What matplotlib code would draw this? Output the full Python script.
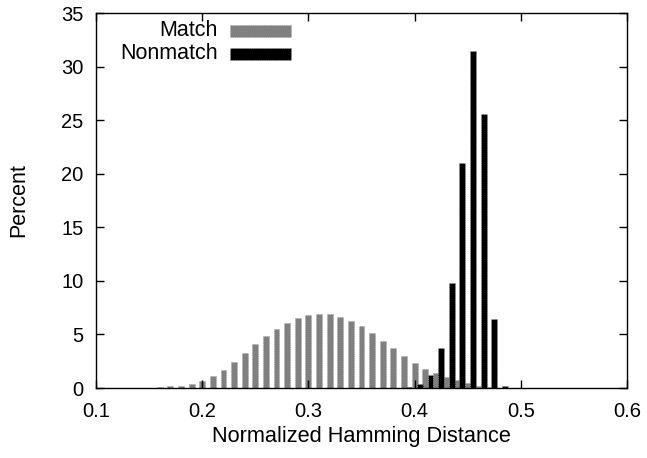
import numpy as np
import matplotlib
matplotlib.use('Agg')
import matplotlib.pyplot as plt
from matplotlib.patches import Rectangle

plt.rcParams['font.family'] = ['Liberation Sans', 'DejaVu Sans']

# match distribution, bins every 0.01
match_x = [0.14, 0.15, 0.16, 0.17, 0.18, 0.19, 0.20, 0.21, 0.22, 0.23, 0.24,
           0.25, 0.26, 0.27, 0.28, 0.29, 0.30, 0.31, 0.32, 0.33, 0.34, 0.35,
           0.36, 0.37, 0.38, 0.39, 0.40, 0.41, 0.42, 0.43, 0.44, 0.45, 0.46, 0.47]
match_pct = [0.01, 0.03, 0.06, 0.16, 0.21, 0.39, 0.68, 1.13, 1.71, 2.43, 3.28,
             4.08, 4.82, 5.51, 6.07, 6.54, 6.82, 6.94, 6.91, 6.63, 6.26, 5.79,
             5.14, 4.42, 3.70, 2.99, 2.38, 1.80, 1.40, 1.04, 0.75, 0.47, 0.19, 0.08]

# nonmatch distribution, bins offset by half a step
nonmatch_x = [0.385, 0.395, 0.405, 0.415, 0.425, 0.435, 0.445, 0.455, 0.465, 0.475, 0.485]
nonmatch_pct = [0.03, 0.12, 0.37, 1.25, 3.73, 9.80, 20.98, 31.47, 25.61, 6.47, 0.19]

W, H = 647, 458
fig = plt.figure(figsize=(W / 100, H / 100), dpi=100)
ax = fig.add_axes([0.1484, 0.1528, 0.8207, 0.8188])

w = 0.0055
ax.bar(match_x, match_pct, width=w, color='#808080', edgecolor='#a0a0a0',
       linewidth=0.6, linestyle=':')
ax.bar(nonmatch_x, nonmatch_pct, width=w, color='black', edgecolor='#a0a0a0',
       linewidth=0.6, linestyle=':')

ax.set_xlim(0.1, 0.6)
ax.set_ylim(0, 35)
ax.set_xticks([0.1, 0.2, 0.3, 0.4, 0.5, 0.6])
ax.set_xticklabels(['0.1', '0.2', '0.3', '0.4', '0.5', '0.6'])
ax.set_yticks(range(0, 36, 5))
ax.tick_params(direction='in', length=6, width=1, top=True, right=True,
               labelsize=14.5)
ax.tick_params(axis='x', pad=10)
ax.tick_params(axis='y', pad=9)
for s in ax.spines.values():
    s.set_linewidth(1)

ax.set_xlabel('Normalized Hamming Distance', fontsize=15.7, labelpad=4)
ax.set_ylabel('Percent', fontsize=15.5, labelpad=23)

# gnuplot style key: label on the left, sample box on the right
def key_row(label, color, y):
    fig.text(218 / W, 1 - y / H, label, ha='right', va='center', fontsize=15.5)
    fig.patches.append(Rectangle((230 / W, 1 - (y + 6) / H), 61 / W, 12 / H,
                                 transform=fig.transFigure, facecolor=color,
                                 edgecolor='#a0a0a0', linewidth=0.6,
                                 linestyle=':'))

key_row('Match', '#808080', 30.5)
key_row('Nonmatch', 'black', 53.5)

fig.savefig('out.png', dpi=100)
